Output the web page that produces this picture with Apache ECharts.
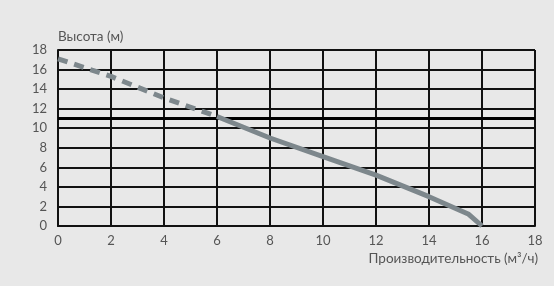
<!DOCTYPE html>
<html><head><meta charset="utf-8">
<script src="https://cdn.jsdelivr.net/npm/echarts@6/dist/echarts.min.js"></script>
<style>html,body{margin:0;padding:0;background:#e8e8e8}#c{width:554px;height:286px}</style>
</head><body><div id="c"></div>
<script>
const xTicks = [0,2,4,6,8,10,12,14,16,18];
const yTicks = [0,2,4,6,8,10,12,14,16,18];
const dashedFlow = [0, 2, 4, 6];
const dashedHead = [17.1, 15.3, 13.1, 11.2];
const solidFlow = [6, 8, 10, 12, 14, 15.5, 16];
const solidHead = [11.2, 9.0, 7.1, 5.2, 3.0, 1.2, 0];
const refHead = 11;
const yTitle = 'Высота (м)';
const xTitle = 'Производительность (м³/ч)';

const chart = echarts.init(document.getElementById('c'), null, {renderer:'canvas'});
const font = 'Lato, "Noto Sans", sans-serif';
chart.setOption({
  backgroundColor:'#e8e8e8',
  animation:false,
  grid:{left:58,right:19,top:50,bottom:60,containLabel:false},
  xAxis:{type:'value',min:0,max:18,interval:2,
    axisLine:{show:true,lineStyle:{color:'#111',width:2}},
    axisTick:{show:false},
    splitLine:{show:true,lineStyle:{color:'#111',width:2}},
    axisLabel:{color:'#555',fontSize:13,fontFamily:font,margin:8},
    name:xTitle,nameLocation:'end',nameGap:0,
    nameTextStyle:{color:'#555',fontSize:13.5,fontFamily:font,align:'right',verticalAlign:'top',padding:[26,-3,0,0]}
  },
  yAxis:{type:'value',min:0,max:18,interval:2,
    axisLine:{show:true,lineStyle:{color:'#111',width:2}},
    axisTick:{show:false},
    splitLine:{show:true,lineStyle:{color:'#111',width:2}},
    axisLabel:{color:'#555',fontSize:13,fontFamily:font,margin:11},
    name:yTitle,nameLocation:'end',nameGap:6,
    nameTextStyle:{color:'#555',fontSize:13.5,fontFamily:font,align:'left'}
  },
  series:[
    {type:'line',data:dashedFlow.map((x,i)=>[x,dashedHead[i]]),showSymbol:false,
     lineStyle:{color:'#7d878c',width:5,type:[10,7]},z:5,
     markLine:{silent:true,symbol:'none',label:{show:false},
       lineStyle:{color:'#000',width:3,type:'solid'},data:[{yAxis:refHead}]}},
    {type:'line',data:solidFlow.map((x,i)=>[x,solidHead[i]]),showSymbol:false,
     lineStyle:{color:'#7d878c',width:5},z:5}
  ]
});
</script></body></html>
